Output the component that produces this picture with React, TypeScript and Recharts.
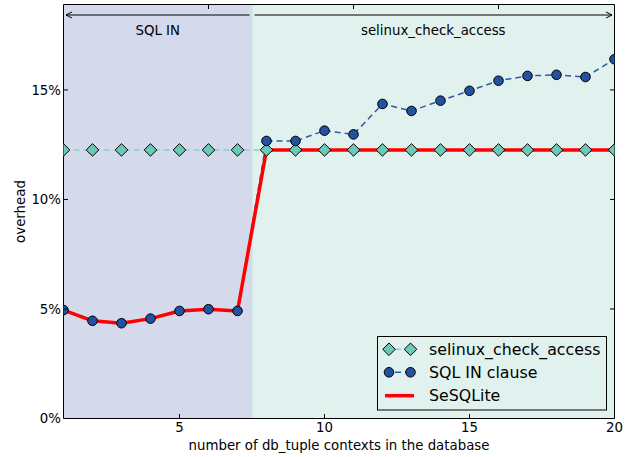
import React from "react";
import {
  LineChart,
  Line,
  XAxis,
  YAxis,
  ReferenceArea,
  ReferenceLine,
  Legend,
} from "recharts";

const FONT = "DejaVu Sans";
const FS = 13.33;

const contexts = [1, 2, 3, 4, 5, 6, 7, 8, 9, 10, 11, 12, 13, 14, 15, 16, 17, 18, 19, 20];
const selinuxCheckAccess = [
  12.26, 12.26, 12.26, 12.26, 12.26, 12.26, 12.26, 12.26, 12.26, 12.26,
  12.26, 12.26, 12.26, 12.26, 12.26, 12.26, 12.26, 12.26, 12.26, 12.26,
];
const sqlInClause = [
  4.95, 4.46, 4.35, 4.56, 4.91, 4.99, 4.91, 12.67, 12.67, 13.14,
  12.97, 14.36, 14.04, 14.51, 14.96, 15.42, 15.64, 15.69, 15.59, 16.4,
];
const seSQLite = [
  4.95, 4.46, 4.35, 4.56, 4.91, 4.99, 4.91, 12.26, 12.26, 12.26,
  12.26, 12.26, 12.26, 12.26, 12.26, 12.26, 12.26, 12.26, 12.26, 12.26,
];
const xTicks = [5, 10, 15, 20];
const yTicks = [0, 5, 10, 15];
const regionSplit = 7.5;
const arrowLevel = 18.42;

const data = contexts.map((x, i) => ({
  x,
  selinux: selinuxCheckAccess[i],
  sqlin: sqlInClause[i],
  sesqlite: seSQLite[i],
}));

const TEAL = "#6dc8b6";
const TEAL_LINE = "#86d3c3";
const BLUE = "#2251a0";
const BLUE_LINE = "#2d5ba8";
const RED = "#ff0000";

const BottomTick = (p: any) => (
  <g>
    <line x1={p.x} x2={p.x} y1={p.y} y2={p.y - 4.5} stroke="#000" />
    <text x={p.x} y={p.y + 13.7} textAnchor="middle" fontSize={FS} fontFamily={FONT} fill="#000">
      {p.payload.value}
    </text>
  </g>
);
const TopTick = (p: any) =>
  p.payload.value >= 20 ? <g /> : (
    <g>
      <line x1={p.x} x2={p.x} y1={p.y} y2={p.y + 4.5} stroke="#000" />
    </g>
  );
const LeftTick = (p: any) => (
  <g>
    <line x1={p.x} x2={p.x + 4.5} y1={p.y} y2={p.y} stroke="#000" />
    <text x={p.x - 2.5} y={p.y + 4.8} textAnchor="end" fontSize={FS} fontFamily={FONT} fill="#000">
      {p.payload.value + "%"}
    </text>
  </g>
);
const RightTick = (p: any) =>
  p.payload.value <= 0 ? <g /> : (
    <g>
      <line x1={p.x} x2={p.x - 4.5} y1={p.y} y2={p.y} stroke="#000" />
    </g>
  );

const Diamond = (p: any) => {
  const { cx, cy, index } = p;
  if (cx == null || cy == null) return <g key={"d" + index} />;
  const r = 6.3;
  return (
    <polygon
      key={"d" + index}
      points={`${cx},${cy - r} ${cx + r},${cy} ${cx},${cy + r} ${cx - r},${cy}`}
      fill={TEAL}
      stroke="#000"
      strokeWidth={1}
    />
  );
};
const Circle = (p: any) => {
  const { cx, cy, index } = p;
  if (cx == null || cy == null) return <g key={"c" + index} />;
  return <circle key={"c" + index} cx={cx} cy={cy} r={4.8} fill={BLUE} stroke="#000" strokeWidth={1} />;
};

const ArrowShape = (p: any) => {
  const { x1, y1, x2, y2 } = p;
  if (x1 == null) return <g />;
  const dir = x2 > x1 ? 1 : -1;
  const sx = x1 + dir * 2.5;
  const ex = x2 - dir * 2.5;
  return (
    <g>
      <line x1={sx} y1={y1} x2={ex} y2={y2} stroke="#000" strokeWidth={1} />
      <polyline
        points={`${ex - dir * 6},${y2 - 3} ${ex},${y2} ${ex - dir * 6},${y2 + 3}`}
        fill="none"
        stroke="#000"
        strokeWidth={1}
      />
    </g>
  );
};

const LegendContent = () => {
  const rows = [13.3, 36.3, 59.7];
  return (
    <svg width={231} height={75} style={{ display: "block" }}>
      <rect x={0.5} y={0.5} width={229} height={73.5} fill="none" stroke="#000" strokeWidth={1} />
      <line x1={12} x2={33.5} y1={rows[0]} y2={rows[0]} stroke={TEAL_LINE} strokeWidth={1.5} strokeDasharray="6 4" strokeDashoffset={-6} />
      {[12, 33.5].map((cx) => (
        <polygon
          key={"ld" + cx}
          points={`${cx},${rows[0] - 6.3} ${cx + 6.3},${rows[0]} ${cx},${rows[0] + 6.3} ${cx - 6.3},${rows[0]}`}
          fill={TEAL}
          stroke="#000"
        />
      ))}
      <line x1={12} x2={33.5} y1={rows[1]} y2={rows[1]} stroke={BLUE_LINE} strokeWidth={1.5} strokeDasharray="6 4" strokeDashoffset={-6} />
      {[12, 33.5].map((cx) => (
        <circle key={"lc" + cx} cx={cx} cy={rows[1]} r={4.8} fill={BLUE} stroke="#000" />
      ))}
      <line x1={8} x2={37} y1={rows[2]} y2={rows[2]} stroke={RED} strokeWidth={3.5} />
      {["selinux_check_access", "SQL IN clause", "SeSQLite"].map((t, i) => (
        <text key={t} x={52} y={rows[i] + 5.6} fontSize={15.8} fontFamily={FONT} fill="#000">
          {t}
        </text>
      ))}
    </svg>
  );
};

export default function App() {
  return (
    <div style={{ position: "absolute", left: 0, top: 0, width: 634, height: 457, background: "#fff" }}>
      <LineChart width={634} height={457} data={data} margin={{ top: 0, right: 0, bottom: 0, left: 0 }}>
        <ReferenceArea x1={1} x2={regionSplit} y1={0} y2={18.9} fill="#d4daeb" fillOpacity={1} stroke="none" ifOverflow="visible"
          label={{ value: "SQL IN", position: "insideTop", offset: 21.3, fontSize: FS, fontFamily: FONT, fill: "#000" }} />
        <ReferenceArea x1={regionSplit} x2={20} y1={0} y2={18.9} fill="#e1f2ee" fillOpacity={1} stroke="none" ifOverflow="visible"
          label={{ value: "selinux_check_access", position: "insideTop", offset: 21.3, fontSize: FS, fontFamily: FONT, fill: "#000" }} />
        <ReferenceLine x={regionSplit} stroke="#c8e0e4" strokeWidth={1} />
        <ReferenceLine segment={[{ x: regionSplit, y: arrowLevel }, { x: 1, y: arrowLevel }]} shape={ArrowShape} ifOverflow="visible" />
        <ReferenceLine segment={[{ x: regionSplit, y: arrowLevel }, { x: 20, y: arrowLevel }]} shape={ArrowShape} ifOverflow="visible" />
        <XAxis
          dataKey="x"
          type="number"
          domain={[1, 20]}
          ticks={xTicks}
          height={38.5}
          tickSize={0}
          tickMargin={0}
          tickLine={false}
          axisLine={{ stroke: "#000" }}
          tick={BottomTick}
          interval={0}
          allowDataOverflow
          label={{ value: "number of db_tuple contexts in the database", position: "insideBottom", offset: 7, fontSize: FS, fontFamily: FONT, fill: "#000" }}
        />
        <XAxis
          xAxisId="top"
          orientation="top"
          type="number"
          domain={[1, 20]}
          ticks={xTicks}
          height={4.5}
          tickSize={0}
          tickMargin={0}
          tickLine={false}
          axisLine={{ stroke: "#000" }}
          tick={TopTick}
          interval={0}
          allowDataOverflow
        />
        <YAxis
          type="number"
          domain={[0, 18.9]}
          ticks={yTicks}
          width={63.5}
          tickSize={0}
          tickMargin={0}
          tickLine={false}
          axisLine={{ stroke: "#000" }}
          tick={LeftTick}
          interval={0}
          allowDataOverflow
          label={{
            content: () => (
              <text x={24.5} y={211.5} transform="rotate(-90 24.5 211.5)" textAnchor="middle" fontSize={FS} fontFamily={FONT} fill="#000">
                overhead
              </text>
            ),
          }}
        />
        <YAxis
          yAxisId="right"
          orientation="right"
          type="number"
          domain={[0, 18.9]}
          ticks={yTicks}
          width={19.5}
          tickSize={0}
          tickMargin={0}
          tickLine={false}
          axisLine={{ stroke: "#000" }}
          tick={RightTick}
          interval={0}
          allowDataOverflow
        />
        <Line
          dataKey="selinux"
          type="linear"
          stroke={TEAL_LINE}
          strokeWidth={1.5}
          strokeDasharray="6 4"
          dot={Diamond}
          activeDot={false}
          isAnimationActive={false}
        />
        <Line
          dataKey="sqlin"
          type="linear"
          stroke={BLUE_LINE}
          strokeWidth={1.5}
          strokeDasharray="6 4"
          dot={Circle}
          activeDot={false}
          isAnimationActive={false}
        />
        <Line
          dataKey="sesqlite"
          type="linear"
          stroke={RED}
          strokeWidth={3.5}
          strokeLinejoin="round"
          dot={false}
          activeDot={false}
          isAnimationActive={false}
        />
        <Legend
          layout="vertical"
          align="center"
          verticalAlign="middle"
          content={LegendContent}
          wrapperStyle={{ left: 377, top: 336, width: 231, height: 75 }}
        />
      </LineChart>
    </div>
  );
}
